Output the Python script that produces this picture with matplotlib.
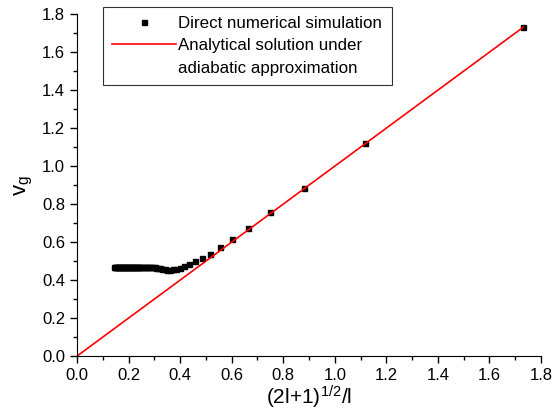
import numpy as np
import matplotlib.pyplot as plt
from matplotlib.lines import Line2D

plt.rcParams['font.family'] = ['Liberation Sans', 'DejaVu Sans']
plt.rcParams['mathtext.default'] = 'regular'

# simulation points
x_sim = [1.732, 1.118, 0.882, 0.750, 0.663, 0.601, 0.553, 0.515, 0.484, 0.458,
         0.436, 0.417, 0.400, 0.385, 0.372, 0.360, 0.350, 0.340, 0.331, 0.323,
         0.315, 0.308, 0.301, 0.295, 0.289, 0.283, 0.278, 0.273, 0.268, 0.263,
         0.258, 0.254, 0.250, 0.246, 0.242, 0.238, 0.234, 0.231, 0.228, 0.224,
         0.221, 0.218, 0.215, 0.212, 0.209, 0.206, 0.203, 0.200, 0.197, 0.194,
         0.191, 0.188, 0.185, 0.182, 0.179, 0.176, 0.173, 0.170, 0.167, 0.164,
         0.161, 0.158, 0.155, 0.152, 0.149, 0.146, 0.143]
y_sim = [1.730, 1.120, 0.885, 0.757, 0.672, 0.617, 0.572, 0.540, 0.518, 0.500,
         0.484, 0.476, 0.466, 0.460, 0.457, 0.455, 0.455, 0.458, 0.461, 0.463,
         0.465, 0.466, 0.467, 0.468, 0.468, 0.469, 0.469, 0.469, 0.470, 0.470,
         0.470, 0.470, 0.470, 0.470, 0.470, 0.470, 0.470, 0.470, 0.470, 0.470,
         0.470, 0.470, 0.470, 0.470, 0.470, 0.470, 0.470, 0.470, 0.470, 0.470,
         0.470, 0.470, 0.470, 0.470, 0.470, 0.470, 0.470, 0.470, 0.470, 0.470,
         0.470, 0.470, 0.470, 0.470, 0.470, 0.470, 0.470]

# analytical line v_g = x
x_line = [0.0, 1.732]
y_line = [0.0, 1.732]

fig = plt.figure(figsize=(5.54, 4.16), dpi=100)
ax = fig.add_axes([0.139, 0.144, 0.8375, 0.822])

sim, = ax.plot(x_sim, y_sim, 's', color='black', markersize=3.6, linestyle='none')
ana, = ax.plot(x_line, y_line, '-', color='red', linewidth=1.2)
blank = Line2D([], [], linestyle='none')

ax.set_xlim(0, 1.8)
ax.set_ylim(0, 1.8)
ax.set_xticks(np.arange(0, 1.81, 0.2))
ax.set_yticks(np.arange(0, 1.81, 0.2))
ax.set_xticks(np.arange(0.1, 1.8, 0.2), minor=True)
ax.set_yticks(np.arange(0.1, 1.8, 0.2), minor=True)
ax.xaxis.set_major_formatter(plt.FormatStrFormatter('%.1f'))
ax.yaxis.set_major_formatter(plt.FormatStrFormatter('%.1f'))

ax.spines['top'].set_visible(False)
ax.spines['right'].set_visible(False)
ax.tick_params(which='major', direction='out', length=5, width=1, labelsize=12)
ax.tick_params(which='minor', direction='out', length=3, width=1)

ax.set_xlabel('(2l+1)$^{1/2}$/l', fontsize=15, labelpad=1)
ax.set_ylabel('$v_g$', fontsize=16, labelpad=5)

leg = ax.legend([sim, ana, blank],
                ['Direct numerical simulation', 'Analytical solution under',
                 'adiabatic approximation'],
                loc='upper left', bbox_to_anchor=(0.056, 1.021), borderaxespad=0,
                fontsize=12.2, frameon=True, fancybox=False, numpoints=1,
                handlelength=3.75, borderpad=0.55, labelspacing=0.42,
                handletextpad=0.15)
leg.get_frame().set_edgecolor('black')
leg.get_frame().set_linewidth(0.8)

fig.savefig('out.png', dpi=100)
